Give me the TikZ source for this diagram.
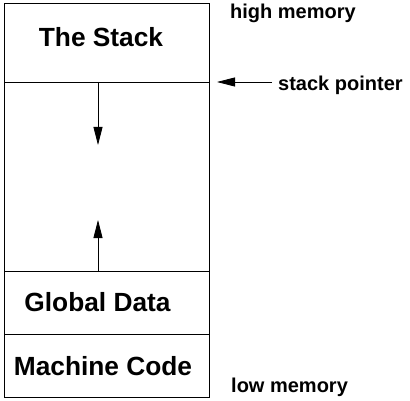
\documentclass[tikz,border=0pt]{standalone}
\usepackage{fontspec}
\setmainfont{Liberation Sans}
\usetikzlibrary{arrows.meta}
\tikzset{
  region/.style={font=\fontsize{26.3}{30}\selectfont\bfseries, inner sep=0pt, anchor=base},
  remark/.style={font=\fontsize{20}{24}\selectfont\bfseries, inner sep=0pt, anchor=base west},
  growarrow/.style={line width=0.8pt, -{Triangle[length=18pt,width=9pt]}}
}
\begin{document}
\begin{tikzpicture}[x=1pt,y=-1pt]
        \useasboundingbox (0,0) rectangle (410,401);

        \draw[line width=0.9pt] (4,3) rectangle (209,397);
        \draw[line width=0.9pt] (4,82) -- (209,82);
        \draw[line width=0.9pt] (4,271) -- (209,271);
        \draw[line width=0.9pt] (4,334) -- (209,334);

        \node[region] (stack) at (101,47) {The Stack};
        \node[region] (data) at (97.5,311) {Global Data};
        \node[region] (code) at (103,375) {Machine Code};

        \coordinate (stacktop) at (98,82);
        \coordinate (stackgrow) at (98,145);
        \draw[growarrow] (stacktop) -- (stackgrow);

        \coordinate (heaptop) at (98,271);
        \coordinate (heapgrow) at (98,220);
        \draw[growarrow] (heaptop) -- (heapgrow);

        \node[remark] (high) at (230,19) {high memory};
        \node[remark] (pointer) at (278,91) {stack pointer};
        \node[remark] (low) at (231,392) {low memory};

        \coordinate (ptrtail) at (272,82);
        \coordinate (ptrhead) at (217,82);
        \draw[growarrow] (ptrtail) -- (ptrhead);
    \end{tikzpicture}
\end{document}
